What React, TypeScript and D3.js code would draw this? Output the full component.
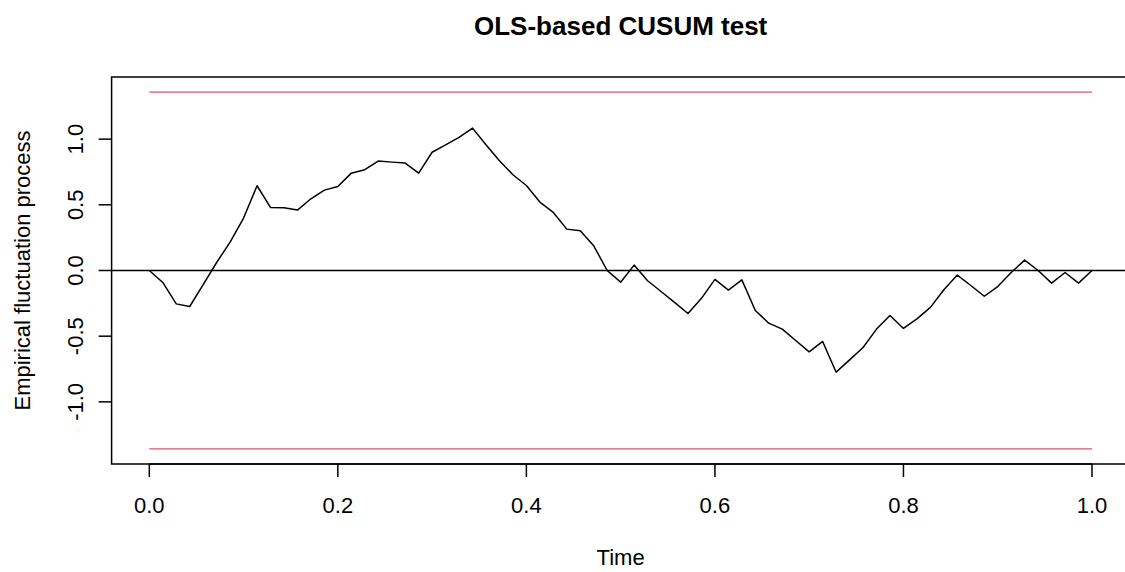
import React from "react";
import * as d3 from "d3";

const processValues: number[] = [
  0, -0.091, -0.254, -0.274, -0.107, 0.061, 0.216, 0.399, 0.645, 0.48,
  0.478, 0.46, 0.546, 0.612, 0.64, 0.741, 0.767, 0.833, 0.825, 0.818,
  0.741, 0.9, 0.957, 1.013, 1.084, 0.957, 0.835, 0.729, 0.647, 0.521,
  0.442, 0.315, 0.302, 0.188, 0.0, -0.089, 0.041, -0.078, -0.16, -0.243,
  -0.327, -0.212, -0.068, -0.149, -0.071, -0.304, -0.401, -0.446, -0.533, -0.619,
  -0.54, -0.774, -0.68, -0.586, -0.446, -0.342, -0.441, -0.368, -0.281, -0.147,
  -0.035, -0.114, -0.196, -0.122, -0.015, 0.079, 0.0, -0.096, -0.015, -0.096,
  0,
];
const boundary = 1.358;
const xTicks: number[] = [0, 0.2, 0.4, 0.6, 0.8, 1.0];
const yTicks: number[] = [-1.0, -0.5, 0.0, 0.5, 1.0];
const title = "OLS-based CUSUM test";
const xLabel = "Time";
const yLabel = "Empirical fluctuation process";

export default function App() {
  const W = 1125, H = 572;
  const left = 111.6, right = 1129.7, top = 77, bottom = 464;
  const x = d3.scaleLinear().domain([-0.04, 1.04]).range([left, right]);
  const y = d3.scaleLinear().domain([-1.473, 1.473]).range([bottom, top]);
  const n = processValues.length;
  const pts: [number, number][] = processValues.map((v, i) => [i / (n - 1), v]);
  const line = d3.line<[number, number]>().x((d) => x(d[0])).y((d) => y(d[1]));
  const font = "Liberation Sans, Arial, sans-serif";
  const red = "#DF536B";
  return (
    <svg width={W} height={H} style={{ position: "absolute", left: 0, top: 0, background: "#fff" }} fontFamily={font}>
      <rect x={0} y={0} width={W} height={H} fill="#fff" />
      <text x={(left + right) / 2} y={35} textAnchor="middle" fontSize={26} fontWeight="bold" fill="#000">{title}</text>
      <line x1={x(0)} x2={x(1)} y1={y(boundary)} y2={y(boundary)} stroke={red} strokeWidth={1.4} />
      <line x1={x(0)} x2={x(1)} y1={y(-boundary)} y2={y(-boundary)} stroke={red} strokeWidth={1.4} />
      <line x1={left} x2={right} y1={y(0)} y2={y(0)} stroke="#000" strokeWidth={1.5} />
      <path d={line(pts) || ""} fill="none" stroke="#000" strokeWidth={1.5} strokeLinejoin="round" />
      <rect x={left} y={top} width={right - left} height={bottom - top} fill="none" stroke="#000" strokeWidth={1.5} />
      <line x1={x(xTicks[0])} x2={x(xTicks[xTicks.length - 1])} y1={bottom} y2={bottom} stroke="#000" strokeWidth={1.5} />
      {xTicks.map((t) => (
        <g key={"x" + t}>
          <line x1={x(t)} x2={x(t)} y1={bottom} y2={bottom + 13} stroke="#000" strokeWidth={1.5} />
          <text x={x(t)} y={513} textAnchor="middle" fontSize={22} fill="#000">{t.toFixed(1)}</text>
        </g>
      ))}
      {yTicks.map((t) => (
        <g key={"y" + t}>
          <line x1={left} x2={left - 13} y1={y(t)} y2={y(t)} stroke="#000" strokeWidth={1.5} />
          <text transform={`translate(83,${y(t)}) rotate(-90)`} textAnchor="middle" fontSize={22} fill="#000">{t.toFixed(1)}</text>
        </g>
      ))}
      <text x={(left + right) / 2} y={565} textAnchor="middle" fontSize={22} fill="#000">{xLabel}</text>
      <text transform={`translate(30,${(top + bottom) / 2}) rotate(-90)`} textAnchor="middle" fontSize={22} fill="#000">{yLabel}</text>
    </svg>
  );
}
